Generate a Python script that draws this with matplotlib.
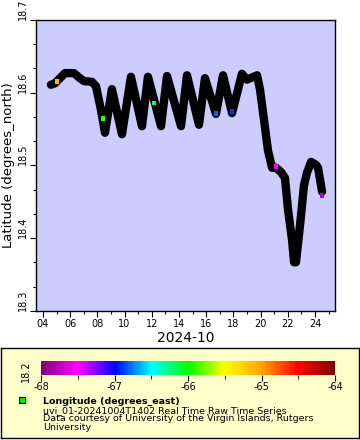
import numpy as np
import pandas as pd
import matplotlib
matplotlib.use('Agg')
import matplotlib.pyplot as plt
import matplotlib.dates as mdates
from matplotlib.colors import LinearSegmentedColormap, Normalize
from matplotlib.cm import ScalarMappable
from matplotlib.ticker import MultipleLocator
from matplotlib.patches import Rectangle

plt.rcParams['font.family'] = 'DejaVu Sans'
plt.rcParams['axes.unicode_minus'] = False

# day of October 2024 (fractional) and latitude of the track
day = [4.59, 4.88, 5.25, 5.62, 6.28, 6.72, 7.02, 7.60, 7.90, 8.27, 8.56, 9.07,
       9.81, 10.47, 11.28, 11.72, 12.68, 13.12, 14.15, 14.59, 15.47, 15.91,
       16.72, 17.24, 17.90, 18.63, 19.00, 19.74, 19.96, 20.25, 20.54, 20.84,
       21.13, 21.50, 21.79, 22.02, 22.31, 22.46, 22.60, 22.90, 23.19, 23.41,
       23.71, 24.07, 24.22, 24.52]
lat = [18.611, 18.613, 18.620, 18.627, 18.627, 18.620, 18.616, 18.615, 18.609,
       18.576, 18.545, 18.605, 18.543, 18.622, 18.554, 18.622, 18.554, 18.623,
       18.554, 18.624, 18.556, 18.620, 18.571, 18.624, 18.572, 18.626, 18.618,
       18.624, 18.604, 18.563, 18.521, 18.497, 18.497, 18.491, 18.483, 18.439,
       18.398, 18.367, 18.367, 18.418, 18.473, 18.490, 18.505, 18.501, 18.497,
       18.464]

# a few points whose longitude colour shows through
mk_day = [5.03, 8.41, 12.16, 16.72, 17.90, 21.13, 24.51]
mk_lat = [18.615, 18.565, 18.586, 18.572, 18.574, 18.499, 18.459]
mk_lon = [-65.1, -65.9, -66.25, -66.8, -66.9, -67.5, -67.3]

cb_ticks = [-68, -67, -66, -65, -64]

def to_time(d):
    return pd.Timestamp('2024-10-01') + pd.to_timedelta(np.array(d) - 1, unit='D')

cmap = LinearSegmentedColormap.from_list('rainbow2', [
    '#800080', '#ff00ff', '#0000ff', '#00ffff', '#00ff00',
    '#ffff00', '#ffa500', '#ff0000', '#800000'])
norm = Normalize(-68, -64)

fig = plt.figure(figsize=(3.6, 4.4), dpi=100)
fig.patch.set_facecolor('white')

# legend area (drawn first, under everything)
bg = fig.add_axes([1/360, 1-438/440, 358/360, 90/440], zorder=-5)
bg.set_facecolor('#ffffcc')
bg.set_xticks([])
bg.set_yticks([])
for s in bg.spines.values():
    s.set_linewidth(1)

ax = fig.add_axes([36/360, 1-311/440, 299/360, 291/440])
ax.set_facecolor('#ccccff')
ax.plot(to_time(day), lat, color='black', lw=6, solid_joinstyle='round',
        solid_capstyle='round')
ax.scatter(to_time(mk_day), mk_lat, c=mk_lon, cmap=cmap, norm=norm,
           marker='s', s=12, linewidths=0, zorder=3)

ax.set_xlim(to_time([3.49])[0], to_time([25.47])[0])
ax.set_ylim(18.3, 18.7)
ax.xaxis.set_major_locator(mdates.DayLocator(bymonthday=range(4, 25, 2)))
ax.xaxis.set_minor_locator(mdates.DayLocator())
ax.xaxis.set_major_formatter(mdates.DateFormatter('%d'))
ax.yaxis.set_major_locator(MultipleLocator(0.1))
ax.yaxis.set_minor_locator(MultipleLocator(0.1/3))
ax.yaxis.set_major_formatter(matplotlib.ticker.FormatStrFormatter('%.1f'))
ax.tick_params(which='major', direction='out', length=4, width=0.8, labelsize=7, pad=2)
ax.tick_params(which='minor', direction='out', length=2.5, width=0.8)
for t in ax.get_yticklabels():
    t.set_rotation(90)
    t.set_va('bottom')
ax.set_xlabel('2024-10', fontsize=10, labelpad=1)
ax.set_ylabel('Latitude (degrees_north)', fontsize=9.5, labelpad=2)
for s in ax.spines.values():
    s.set_linewidth(1)

cax = fig.add_axes([41/360, 1-375/440, 294/360, 14/440])
cb = fig.colorbar(ScalarMappable(norm=norm, cmap=cmap), cax=cax,
                  orientation='horizontal')
cb.outline.set_visible(False)
cb.set_ticks(cb_ticks)
cb.ax.xaxis.set_minor_locator(MultipleLocator(0.5))
cb.ax.tick_params(which='major', direction='out', length=4, labelsize=7, pad=1)
cb.ax.tick_params(which='minor', direction='out', length=3)

fig.text(31/360, 1-382/440, '18.2', rotation=90, fontsize=7, ha='right', va='bottom')

fig.add_artist(Rectangle((19/360, 1-403/440), 6/360, 6/440, transform=fig.transFigure,
                         facecolor='#00ee00', edgecolor='black', lw=0.8))
fig.text(43/360, 1-404/440, 'Longitude (degrees_east)', fontsize=6.8, fontweight='bold')
fig.text(43/360, 1-430/440,
         'uvi_01-20241004T1402 Real Time Raw Time Series\n'
         'Data courtesy of University of the Virgin Islands, Rutgers\n'
         'University', fontsize=6.8, linespacing=0.93, va='baseline')

fig.savefig('out.png', dpi=100)
